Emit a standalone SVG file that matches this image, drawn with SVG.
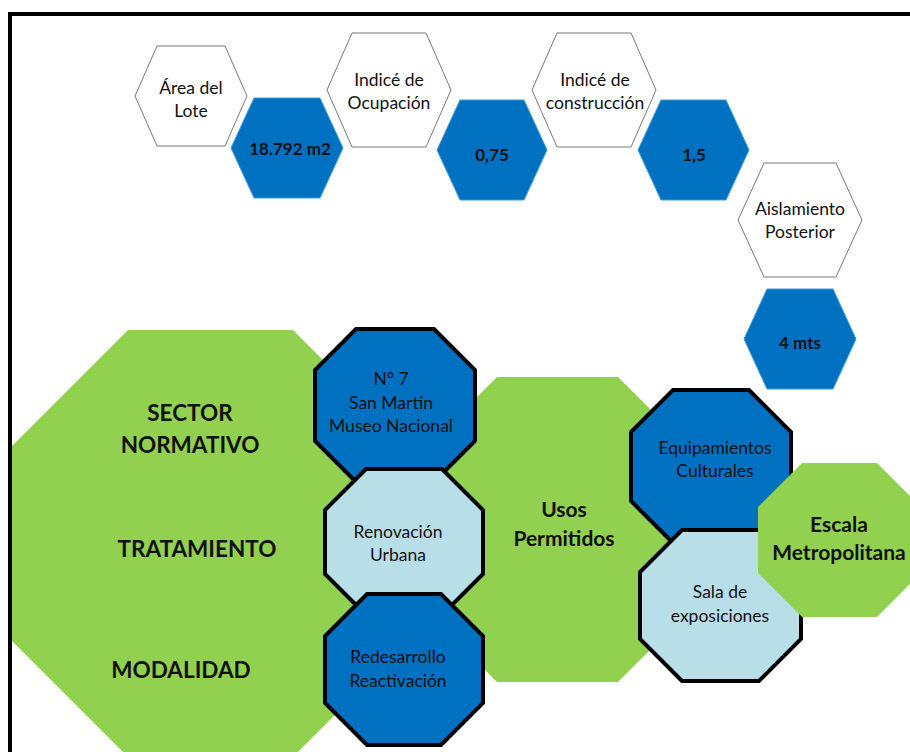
<svg xmlns="http://www.w3.org/2000/svg" width="910" height="752" viewBox="0 0 910 752">
<style>
text{font-family:Lato,"Liberation Sans",sans-serif;text-anchor:middle;fill:#111}
.hw{fill:#fff;stroke:#777;stroke-width:1}
.hb{fill:#0070C0;stroke:#3A9BDC;stroke-width:1}
.g{fill:#92D050}
.ob{fill:#0070C0;stroke:#000;stroke-width:4;stroke-linejoin:miter}
.ol{fill:#B8DEE8;stroke:#000;stroke-width:4;stroke-linejoin:miter}
.t{font-size:17.5px}
.tb{font-size:17px;font-weight:bold}
.big{font-size:22.5px;font-weight:bold}
.mid{font-size:21px;font-weight:bold}
</style>
<rect width="910" height="752" fill="#fff"/>
<g id="area-lote"><polygon class="hw" points="135,96 157,46 225,46 247,96 225,146 157,146"/><text class="t" x="191" y="94">Área del</text><text class="t" x="191" y="117">Lote</text></g>
<g id="area-valor"><polygon class="hb" points="231,148 254,98 320,98 343,148 320,198 254,198"/><text class="tb" x="290" y="155">18.792 m2</text></g>
<g id="ocupacion"><polygon class="hw" points="327,90 352,33 426,33 451,90 426,147 352,147"/><text class="t" x="389" y="86">Indicé de</text><text class="t" x="389" y="109">Ocupación</text></g>
<g id="ocupacion-valor"><polygon class="hb" points="437,150 460,100 524,100 547,150 524,200 460,200"/><text class="tb" x="492" y="161">0,75</text></g>
<g id="construccion"><polygon class="hw" points="532,90 557,33 631,33 656,90 631,147 557,147"/><text class="t" x="595" y="86">Indicé de</text><text class="t" x="595" y="109">construcción</text></g>
<g id="construccion-valor"><polygon class="hb" points="638,150 661,100 726,100 749,150 726,200 661,200"/><text class="tb" x="694" y="161">1,5</text></g>
<g id="aislamiento"><polygon class="hw" points="738,220 764,163 836,163 862,220 836,277 764,277"/><text class="t" x="800" y="215">Aislamiento</text><text class="t" x="800" y="238">Posterior</text></g>
<g id="aislamiento-valor"><polygon class="hb" points="744,339 767,289 833,289 856,339 833,389 767,389"/><text class="tb" x="800" y="349">4 mts</text></g>
<g id="sector"><polygon class="g" points="128,330 293,330 411,448 411,639 293,757 128,757 10,639 10,448"/><text class="big" x="190" y="421">SECTOR</text><text class="big" x="190" y="453">NORMATIVO</text><text class="big" x="197" y="557">TRATAMIENTO</text><text class="big" x="181" y="678">MODALIDAD</text></g>
<g id="usos"><polygon class="g" points="497,377 618,377 706,465 706,594 618,682 497,682 409,594 409,465"/><text class="mid" x="564" y="517">Usos</text><text class="mid" x="564" y="546">Permitidos</text></g>
<g id="sector-n7"><polygon class="ob" points="356,329 434,329 475,370 475,441 434,482 356,482 315,441 315,370"/><text class="t" x="391" y="385">N° 7</text><text class="t" x="391" y="409">San Martin</text><text class="t" x="391" y="432">Museo Nacional</text></g>
<g id="renovacion"><polygon class="ol" points="366,469 442,469 483,510 483,574 442,615 366,615 325,574 325,510"/><text class="t" x="398" y="538">Renovación</text><text class="t" x="398" y="561">Urbana</text></g>
<g id="redesarrollo"><polygon class="ob" points="367,594 441,594 483,636 483,703 441,745 367,745 325,703 325,636"/><text class="t" x="398" y="663">Redesarrollo</text><text class="t" x="398" y="687">Reactivación</text></g>
<g id="equipamientos"><polygon class="ob" points="673,390 749,390 791,432 791,501 749,543 673,543 631,501 631,432"/><text class="t" x="715" y="454">Equipamientos</text><text class="t" x="715" y="477">Culturales</text></g>
<g id="sala"><polygon class="ol" points="682,530 759,530 801,572 801,639 759,681 682,681 640,639 640,572"/><text class="t" x="720" y="598">Sala de</text><text class="t" x="720" y="622">exposiciones</text></g>
<g id="escala"><polygon class="g" points="802,463 877,463 921,507 921,573 877,617 802,617 758,573 758,507"/><text class="mid" x="839" y="532">Escala</text><text class="mid" x="839" y="560">Metropolitana</text></g>
<path id="marco" d="M10,752 V14 H910" fill="none" stroke="#000" stroke-width="4"/>
</svg>
